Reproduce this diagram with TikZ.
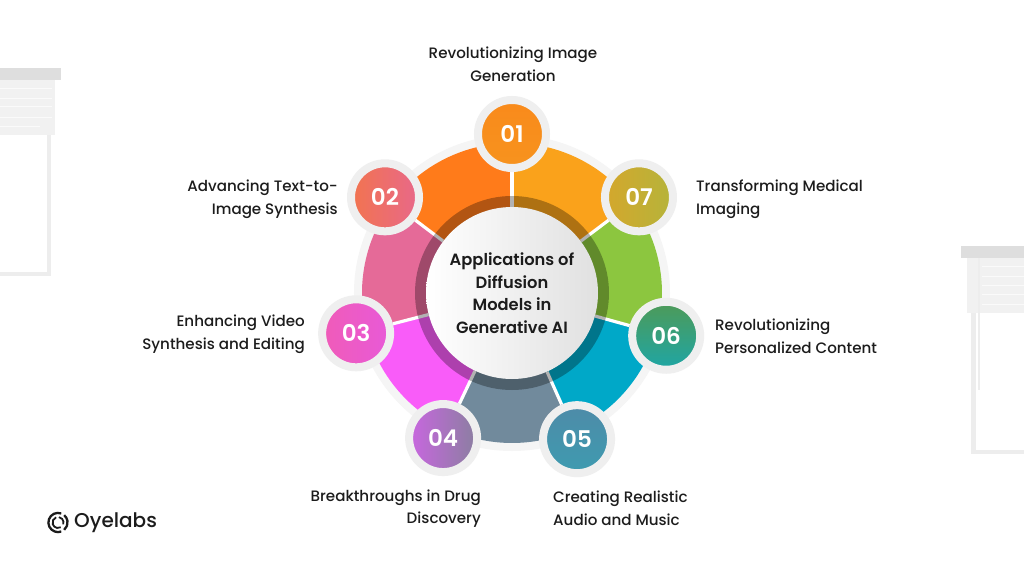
\documentclass[tikz,border=0pt]{standalone}
\usepackage{fontspec}
\setmainfont{Poppins Medium}[BoldFont={Poppins SemiBold}]
\usetikzlibrary{backgrounds}
\definecolor{ink}{HTML}{1C1C1C}
\definecolor{halo}{HTML}{EFEFEF}
\definecolor{blindbar}{HTML}{DEDEDE}
\definecolor{blindslat}{HTML}{F1F1F1}
\definecolor{blindline}{HTML}{EDEDED}
\definecolor{slice1}{HTML}{FAA21B}
\definecolor{slice2}{HTML}{FF7B1A}
\definecolor{slice3}{HTML}{E56A98}
\definecolor{slice4}{HTML}{F95CF9}
\definecolor{slice5}{HTML}{718A9C}
\definecolor{slice6}{HTML}{00A8C8}
\definecolor{slice7}{HTML}{8CC63F}
\tikzset{
  badge/.style={circle,minimum size=68,inner sep=0,line width=8,draw=halo,text=white,font=\fontsize{23}{23}\selectfont\bfseries},
  label/.style={text=ink,font=\fontsize{15.1}{22.6}\selectfont,inner sep=0},
  divider/.style={draw=white,line width=3.2},
}
\begin{document}
\begin{tikzpicture}[x=1pt,y=1pt]
      \useasboundingbox (-512,-283) rectangle (512,293);
      \draw
        (0,0) node[circle,minimum size=172,inner sep=0,shade,shading angle=115,left color=white,right color=black!12,align=center,text=ink,font=\fontsize{16.3}{22.6}\selectfont\bfseries] (hub){Applications of\\Diffusion\\Models in\\Generative AI}
        (90:159) node[badge,shade,top color={rgb,255:red,249;green,138;blue,27},bottom color={rgb,255:red,247;green,147;blue,30}] (b1){01}
        (143:159) node[badge,shade,left color={rgb,255:red,242;green,116;blue,79},right color={rgb,255:red,232;green,104;blue,138}] (b2){02}
        (194.5:161) node[badge,shade,left color={rgb,255:red,240;green,91;blue,184},right color={rgb,255:red,232;green,90;blue,216}] (b3){03}
        (244.6:160.6) node[badge,shade,left color={rgb,255:red,201;green,102;blue,224},right color={rgb,255:red,138;green,127;blue,160}] (b4){04}
        (294:160) node[badge,shade,top color={rgb,255:red,78;green,139;blue,168},bottom color={rgb,255:red,62;green,155;blue,176}] (b5){05}
        (344.5:160) node[badge,shade,top color={rgb,255:red,78;green,154;blue,87},bottom color={rgb,255:red,30;green,166;blue,166}] (b6){06}
        (37:159) node[badge,shade,left color={rgb,255:red,212;green,167;blue,44},right color={rgb,255:red,181;green,180;blue,59}] (b7){07};
      \node[label,align=center] (l1) at (1,228.5) {Revolutionizing Image\\Generation};
      \node[label,align=right,anchor=east] (l2) at (-174,94) {Advancing Text-to-\\Image Synthesis};
      \node[label,align=right,anchor=east] (l3) at (-207,-41.5) {Enhancing Video\\Synthesis and Editing};
      \node[label,align=right,anchor=east] (l4) at (-31,-215.5) {Breakthroughs in Drug\\Discovery};
      \node[label,align=left,anchor=west] (l5) at (41,-215) {Creating Realistic\\Audio and Music};
      \node[label,align=left,anchor=west] (l6) at (203,-43) {Revolutionizing\\Personalized Content};
      \node[label,align=left,anchor=west] (l7) at (184,94) {Transforming Medical\\Imaging};
      \node[text=ink,font=\fontsize{20}{20}\selectfont,inner sep=0,anchor=west] (brand) at (-438,-229.5) {Oyelabs};
      \draw[ink,line width=2.3] (-454,-229.5) ++(70:9.6) arc (70:290:9.6);
      \draw[ink,line width=2.3] (-454,-229.5) ++(310:9.6) arc (310:410:9.6);
      \draw[ink,line width=1.8] (-454,-229.5) ++(110:5.5) arc (110:300:5.5);
      \draw[ink,line width=1.8] (-454,-229.5) ++(-20:5.5) arc (-20:80:5.5);
      \begin{scope}[on background layer]
        % backdrop and blinds
        \fill[white] (-512,-283) rectangle (512,293);
        \fill[blindline] (-512,17) rectangle (-461,21);
        \fill[blindline] (-465,17) rectangle (-461,158);
        \fill[blindslat] (-512,158) rectangle (-457,213);
        \draw[white,line width=.8,opacity=.7] (-512,205) -- (-460,205);
        \draw[white,line width=.8,opacity=.7] (-512,195) -- (-460,195);
        \draw[white,line width=.8,opacity=.7] (-512,187) -- (-460,187);
        \draw[white,line width=.8,opacity=.7] (-512,176) -- (-460,176);
        \draw[white,line width=.8,opacity=.7] (-512,167) -- (-472,167);
        \fill[blindbar] (-512,213) rectangle (-451,225);
        \fill[blindline] (462,-161) rectangle (512,-157);
        \fill[blindline] (459,-161) rectangle (464,-20);
        \fill[blindslat] (455,-20) rectangle (512,35);
        \draw[white,line width=.8,opacity=.7] (470,27) -- (512,27);
        \draw[white,line width=.8,opacity=.7] (470,17) -- (512,17);
        \draw[white,line width=.8,opacity=.7] (470,8) -- (512,8);
        \draw[white,line width=.8,opacity=.7] (470,-1) -- (512,-1);
        \draw[white,line width=.8,opacity=.7] (470,-11) -- (512,-11);
        \draw[blindline,line width=1.6] (467,35) -- (467,-97);
        \fill[blindbar] (449,35) rectangle (512,47);
        % wheel
        \fill[halo!60!white] (0,0) circle (158);
        \fill[slice1] (0,0) -- (90:150) arc (90:37:150) -- cycle;
        \fill[slice7] (0,0) -- (37:150) arc (37:-15.5:150) -- cycle;
        \fill[slice6] (0,0) -- (-15.5:150) arc (-15.5:-66:150) -- cycle;
        \fill[slice5] (0,0) -- (-66:150) arc (-66:-115.4:150) -- cycle;
        \fill[slice4] (0,0) -- (-115.4:150) arc (-115.4:-165.5:150) -- cycle;
        \fill[slice3] (0,0) -- (-165.5:150) arc (-165.5:-217:150) -- cycle;
        \fill[slice2] (0,0) -- (143:150) arc (143:90:150) -- cycle;
        \draw[divider] (hub) to (b1);
        \draw[divider] (hub) to (b2);
        \draw[divider] (hub) to (b3);
        \draw[divider] (hub) to (b4);
        \draw[divider] (hub) to (b5);
        \draw[divider] (hub) to (b6);
        \draw[divider] (hub) to (b7);
        \fill[black,opacity=.3] (0,0) circle (97);
      \end{scope}
    \end{tikzpicture}
\end{document}
